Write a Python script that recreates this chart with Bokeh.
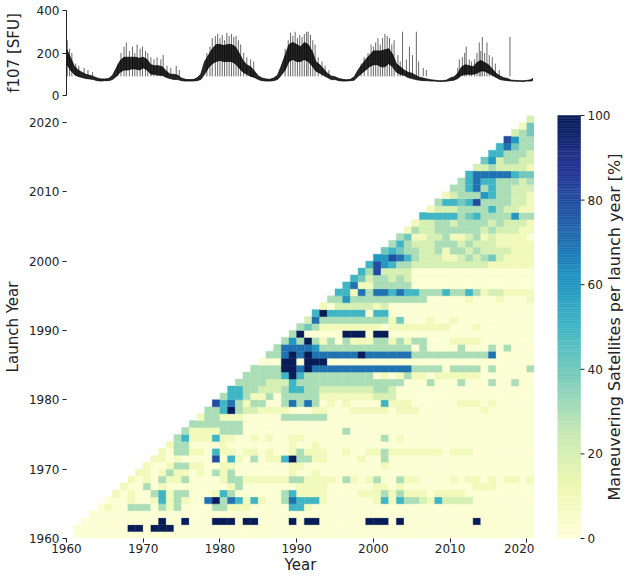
import numpy as np
from bokeh.plotting import figure
from bokeh.models import Range1d, FixedTicker, ColumnDataSource, LinearColorMapper
from bokeh.layouts import column, row
from bokeh.embed import file_html
from bokeh.resources import INLINE
from bokeh.transform import transform
from bokeh.core.properties import value

# ---------------- data: F10.7 solar flux (envelope read every half year) -------------
f107_start = 1960.0
f107_step = 0.5
f107_low = [150, 120, 100, 90, 85, 80, 78, 75, 70, 68, 70, 70, 75, 90, 110, 120, 120, 125, 125, 120,
            130, 120, 100, 100, 95, 95, 85, 80, 75, 75, 70, 68, 68, 68, 70, 75, 100, 130, 150, 160,
            165, 160, 160, 160, 150, 130, 110, 100, 90, 85, 75, 70, 68, 68, 70, 75, 95, 120, 160, 170,
            160, 160, 170, 160, 140, 115, 105, 95, 85, 75, 75, 70, 68, 68, 70, 72, 90, 105, 120, 135,
            145, 145, 135, 135, 150, 135, 110, 100, 95, 85, 80, 75, 72, 70, 70, 68, 68, 66, 66, 67,
            70, 72, 80, 95, 100, 100, 100, 105, 115, 115, 105, 95, 85, 75, 72, 70, 68, 67, 67, 66,
            68, 68, 72]
f107_high = [220, 180, 140, 120, 110, 100, 95, 90, 82, 78, 78, 80, 95, 130, 165, 180, 180, 180, 180, 175,
             180, 170, 145, 140, 140, 135, 115, 100, 100, 95, 82, 76, 75, 75, 82, 100, 160, 190, 220, 240,
             240, 235, 240, 240, 230, 200, 165, 145, 135, 115, 92, 82, 78, 76, 82, 95, 140, 190, 240, 250,
             240, 230, 250, 240, 210, 160, 145, 125, 105, 92, 88, 80, 76, 74, 76, 88, 120, 145, 170, 190,
             210, 210, 210, 215, 220, 195, 150, 135, 120, 110, 105, 95, 86, 82, 78, 74, 72, 70, 70, 72,
             82, 88, 105, 135, 145, 140, 135, 155, 165, 155, 145, 125, 105, 92, 84, 80, 72, 71, 70, 69,
             71, 74, 85]
spike_year = [1960.1, 1960.4, 1960.7, 1961.2, 1961.6, 1962.3, 1962.8, 1963.4,
              1966.7, 1967.1, 1967.5, 1967.8, 1968.2, 1968.6, 1968.9, 1969.2, 1969.6, 1969.9, 1970.3,
              1970.6, 1971.0, 1971.4, 1971.8, 1972.3, 1972.6, 1973.1, 1973.6, 1974.3, 1974.7,
              1978.3, 1978.7, 1979.0, 1979.4, 1979.7, 1980.0, 1980.3, 1980.6, 1980.9, 1981.2, 1981.5,
              1981.8, 1982.1, 1982.4, 1982.7, 1983.1, 1983.5, 1984.0, 1984.4,
              1988.5, 1988.9, 1989.2, 1989.5, 1989.8, 1990.1, 1990.4, 1990.7, 1991.0, 1991.3, 1991.5,
              1991.8, 1992.1, 1992.4, 1992.8, 1993.3, 1993.7, 1994.2,
              1998.4, 1998.8, 1999.3, 1999.7, 2000.0, 2000.3, 2000.6, 2000.9, 2001.2, 2001.5, 2001.8,
              2002.1, 2002.4, 2002.7, 2003.2, 2003.5, 2003.8, 2004.3, 2004.7, 2005.1, 2005.6, 2005.9,
              2006.5, 2006.9,
              2011.0, 2011.2, 2011.6, 2011.9, 2012.1, 2012.5, 2012.8, 2013.2, 2013.5, 2013.8, 2014.0,
              2014.2, 2014.5, 2014.8, 2015.1, 2015.5, 2015.9, 2016.4, 2017.8, 2020.9]
spike_value = [260, 220, 200, 150, 140, 130, 120, 110,
               150, 200, 230, 250, 210, 230, 200, 240, 220, 230, 210,
               200, 180, 170, 180, 170, 190, 140, 130, 140, 120,
               200, 230, 270, 280, 290, 270, 285, 260, 295, 280, 290,
               275, 280, 260, 240, 200, 180, 170, 160,
               220, 260, 295, 280, 300, 270, 285, 275, 290, 300, 300,
               285, 260, 240, 180, 160, 140, 120,
               150, 180, 200, 240, 230, 250, 270, 240, 270, 290, 280,
               270, 240, 260, 190, 160, 300, 170, 230, 190, 300, 160,
               130, 120,
               130, 170, 180, 200, 230, 170, 160, 170, 200, 250, 210,
               275, 200, 250, 190, 180, 150, 120, 275, 100]

# ---------------- data: maneuvering share [%] per launch year (rows) and year (cols) ----
# each string covers years L..2020 for launch year L; one level character per cell
# '0'~2%  '1'~10%  '2'~20% ... '9'~90%  'X'~100%  ' '=no data
level_value = {'0': 2, '1': 10, '2': 20, '3': 30, '4': 40, '5': 50, '6': 60,
               '7': 70, '8': 80, '9': 90, 'X': 100}

launch_1960s = [
    " " + "0" * 60,
    "0000000XX0XXX" + "0" * 47,
    "0000000000" + "X00X000XXX0XX0000X0XX000000XXX0X" + "000000000X0000000",
    "0" * 58,
    "01003330313" + "0000" + "33111" + "00000" + "551" + "00000000" + "0" * 21,
    "0001001513100" + "7X37515100" + "375551" + "000000" + "1515332152222" + "00000000",
    "1010035133" + "000" + "153" + "000000" + "35" + "1111" + "0000" + "11" + "131311101111" + "0" * 9,
    "100301" + "0" * 8 + "13" + "0" * 7 + "1111" + "0" * 6 + "1101" + "0" * 9 + "111" + "0" * 5,
    "10103113" + "0000" + "133" + "111111" + "33" + "1111" + "0" + "31" + "01" + "300311" + "0000" + "10110101101",
    "1101311010313" + "0" * 7 + "1" + "00" + "1" + "0" * 28,
]
launch_1970s = [
    "1001331100" + "11" + "0" * 7 + "11" + "0" * 10 + "1" + "0" * 19,
    "1101" + "0000" + "805103011" + "5X3311" + "0000" + "10" + "03" + "0" * 19,
    "1033110511011010013111001001" + "13" + "1111111" + "0" + "111" + "0" * 8,
    "133" + "0000" + "1" + "0" * 8 + "1" + "00" + "1" + "0" * 28,
    "35111511" + "00" + "1" + "0" + "1" + "00" + "11" + "0" * 10 + "3" + "0" + "1" + "0" * 17,
    "31111" + "333" + "0" * 13 + "3" + "0" * 24,
    "3333333" + "0" * 38,
    "133111" + "00000" + "3" + "33333" + "000000" + "0" * 21,
    "335X322" + "111100011000111" + "110111" + "0" * 8 + "1" + "0" * 6,
    "857313300373730101000" + "051110000001110100000",
]
launch_1980s = [
    "3553113033333" + "1111111" + "222" + "0" * 18,
    "5533222355332222222" + "332" + "0" * 18,
    "333322" + "2" + "5" + "3333333333" + "3333" + "000" + "3" + "000" + "3" + "000" + "3" + "00" + "3" + "00",
    "33333" + "5X53" + "33333333" + "0" + "1" + "0" + "1" + "3" + "11" + "0" + "111111" + "0" * 7,
    "3333" + "XX7X" + "77777777" + "77777" + "3333" + "0" + "3333" + "0" + "3" + "0000" + "3",
    "000" + "XX" + "0" + "XXX" + "0" * 27,
    "33" + "7X7X" + "777777X77" + "7777" + "3333333333" + "7" + "00000",
    "3" + "7777" + "6" + "3333333" + "33333" + "0" + "3" + "0000" + "3" + "000" + "3" + "0" + "3" + "000",
    "363X31303111" + "33131" + "33" + "000" + "1111" + "0" * 7,
    "3X" + "00000" + "XXX" + "0" + "XX" + "0" * 19,
]
launch_1990s = [
    "343" + "1111111" + "1" + "0" + "11111111" + "000" + "1" + "0" * 7,
    "27" + "3333333" + "33" + "1" + "4" + "000" + "1" + "00" + "1" + "0" * 10,
    "5X55555055" + "0" * 19,
    "10222221" + "2" + "0" * 19,
    "336333333333300000100010001",
    "55173775755333533531221111",
    "57113" + "3333" + "0" * 16,
    "54233232" + "0" * 16,
    "5382222" + "0" * 16,
    "5865332222222222111111",
]
launch_2000s = [
    "668753222112323421111",
    "45433223133232222111",
    "3532223332322211111",
    "341122311231211110",
    "13223333332322211",
    "1223323333232221",
    "555553453333633",
    "12223333532211",
    "3554583333221",
    "123336533221",
]
launch_2010s = [
    "33573533222",
    "3575533323",
    "577777544",
    "22322221",
    "4623322",
    "553332",
    "57433",
    "8633",
    "234",
    "14",
]
launch_2020s = ["2"]

first_launch = 1960
last_year = 2020
cbar_ticks = [0, 20, 40, 60, 80, 100]
cbar_title = "Maneuvering Satellites per launch year [%]"

# ---------------- build heatmap cells ------------------------------------------------
rows_all = launch_1960s + launch_1970s + launch_1980s + launch_1990s + launch_2000s + launch_2010s + launch_2020s
xl, xr, yb, yt, vals = [], [], [], [], []
for i, s in enumerate(rows_all):
    L = first_launch + i
    n = last_year - L + 1
    s = (s + "0" * n)[:n]
    for k, ch in enumerate(s):
        if ch == " ":
            continue
        Y = L + k
        xl.append(Y); xr.append(Y + 1); yb.append(L); yt.append(L + 1)
        vals.append(level_value[ch])
src = ColumnDataSource(dict(l=xl, r=xr, b=yb, t=yt, v=vals))

# YlGnBu colormap (256 steps between the 9 ColorBrewer anchors)
anchors = ["#ffffd9", "#edf8b1", "#c7e9b4", "#7fcdbb", "#41b6c4", "#1d91c0", "#225ea8", "#253494", "#081d58"]
def _rgb(h):
    return [int(h[i:i + 2], 16) for i in (1, 3, 5)]
anc = np.array([_rgb(a) for a in anchors], dtype=float)
pos = np.linspace(0, 1, len(anchors))
tt = np.linspace(0, 1, 256)
palette = []
for t in tt:
    c = [np.interp(t, pos, anc[:, j]) for j in range(3)]
    palette.append("#%02x%02x%02x" % tuple(int(round(v)) for v in c))
mapper = LinearColorMapper(palette=palette, low=0, high=100)

FONT = "DejaVu Sans"
TXT = "#222222"

def style_axis(ax, tick_size="12px", label_size="15px"):
    ax.major_label_text_font = FONT
    ax.major_label_text_font_size = tick_size
    ax.major_label_text_color = TXT
    ax.axis_label_text_font = FONT
    ax.axis_label_text_font_size = label_size
    ax.axis_label_text_font_style = "normal"
    ax.axis_label_text_color = TXT
    ax.major_tick_line_color = TXT
    ax.major_tick_in = 0
    ax.major_tick_out = 4
    ax.minor_tick_line_color = None
    ax.major_label_standoff = 3

def no_grid(p):
    for g in p.xgrid + p.ygrid:
        g.visible = False
    p.outline_line_color = None

# ---------------- top panel: F10.7 ---------------------------------------------------
xr_shared = Range1d(1960, 2021)
f107_year = [f107_start + f107_step * i for i in range(len(f107_low))]

top = figure(x_range=xr_shared, y_range=Range1d(0, 400), frame_width=468, frame_height=85,
             min_border_left=64, min_border_right=0, min_border_top=10, min_border_bottom=20,
             x_axis_location=None, output_backend="svg", toolbar_location=None)
top.varea(x=f107_year, y1=f107_low, y2=f107_high, fill_color="black", fill_alpha=0.85)
top.line(x=f107_year, y=f107_high, line_color="black", line_width=0.7)
top.line(x=f107_year, y=f107_low, line_color="black", line_width=0.7)
top.segment(x0=spike_year, y0=[90] * len(spike_year), x1=spike_year, y1=spike_value,
            line_color="black", line_width=0.7, line_alpha=0.85)
top.yaxis.ticker = FixedTicker(ticks=[0, 200, 400])
top.yaxis.axis_label = "f107 [SFU]"
style_axis(top.yaxis[0])
top.yaxis.axis_label_standoff = 11
top.yaxis.axis_line_color = TXT
no_grid(top)

# ---------------- heatmap ------------------------------------------------------------
heat = figure(x_range=xr_shared, y_range=Range1d(1960, 2021), frame_width=468, frame_height=423,
              min_border_left=64, min_border_right=0, min_border_top=0, min_border_bottom=38,
              output_backend="svg", toolbar_location=None)
heat.quad(left="l", right="r", bottom="b", top="t", source=src,
          fill_color=transform("v", mapper), line_color=transform("v", mapper), line_width=0.4)
heat.xaxis.ticker = FixedTicker(ticks=list(range(1960, 2021, 10)))
heat.yaxis.ticker = FixedTicker(ticks=list(range(1960, 2021, 10)))
heat.xaxis.axis_label = "Year"
heat.yaxis.axis_label = "Launch Year"
for ax in (heat.xaxis[0], heat.yaxis[0]):
    style_axis(ax)
    ax.axis_line_color = None
heat.xaxis.major_label_standoff = 1
heat.xaxis.axis_label_standoff = 0
heat.yaxis.axis_label_standoff = 4
no_grid(heat)

# ---------------- colorbar (full-height panel; bar, ticks and labels drawn inside) ----
nb = len(palette)
cb_bottom = [100.0 * i / nb for i in range(nb)]
cb_top = [100.0 * (i + 1) / nb for i in range(nb)]
cb_pad = 10 * 100.0 / 423.0   # 10 px of room above and below the bar
cbar = figure(x_range=Range1d(0, 72), y_range=Range1d(-cb_pad, 100 + cb_pad),
              frame_width=72, frame_height=443,
              min_border_left=23, min_border_right=0, min_border_top=105, min_border_bottom=28,
              x_axis_location=None, y_axis_location=None,
              output_backend="svg", toolbar_location=None)
cbar.quad(left=0, right=23, bottom=cb_bottom, top=cb_top, fill_color=palette, line_color=palette,
          line_width=0.5)
cbar.segment(x0=[23] * len(cbar_ticks), y0=cbar_ticks, x1=[27] * len(cbar_ticks), y1=cbar_ticks,
             line_color=TXT, line_width=1)
cbar.text(x=[30] * len(cbar_ticks), y=cbar_ticks, text=[str(t) for t in cbar_ticks],
          text_align="left", text_baseline="middle", text_font=value(FONT),
          text_font_size="12px", text_color=TXT)
cbar.text(x=[57], y=[50], text=[cbar_title], angle=np.pi / 2, text_align="center",
          text_baseline="middle", text_font=value(FONT), text_font_size="16px", text_color=TXT)
no_grid(cbar)

layout = row(column(top, heat), cbar)
open("out.html", "w").write(file_html(layout, INLINE))
